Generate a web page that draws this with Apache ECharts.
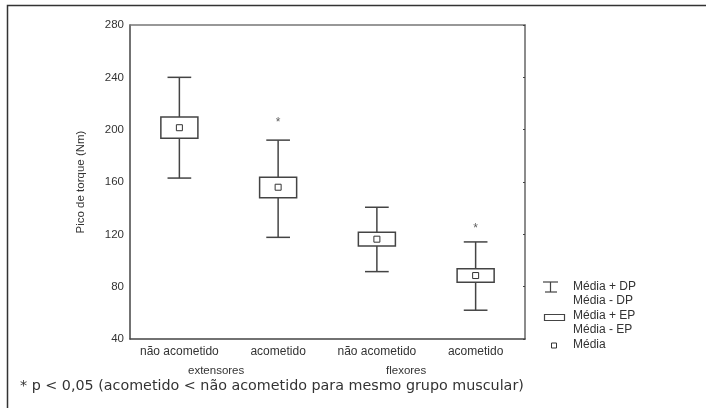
<!DOCTYPE html>
<html>
<head>
<meta charset="utf-8">
<script src="https://cdn.jsdelivr.net/npm/echarts@6/dist/echarts.min.js"></script>
<style>html,body{margin:0;padding:0;background:#fff}#c{width:706px;height:408px}</style>
</head>
<body>
<div id="c"></div>
<script>
var categories = ['não acometido', 'acometido', 'não acometido', 'acometido'];
var groupLabels = ['extensores', 'flexores'];
var meanValues = [201.5, 156, 116.3, 88.5];
var sdUpper = [240, 192, 140.7, 114.2];
var sdLower = [163, 117.7, 91.5, 62];
var seUpper = [209.7, 163.6, 121.6, 93.7];
var seLower = [193.4, 148, 111.1, 83.3];
var starValues = [null, 207, null, 125.5];
var yTicks = [40, 80, 120, 160, 200, 240, 280];

var chart = echarts.init(document.getElementById('c'), null, {renderer: 'canvas'});
var FONT = 'Liberation Sans, Arial, sans-serif';
var LINE = '#444';

var boxData = categories.map(function (c, i) {
  return [i, sdLower[i], seLower[i], meanValues[i], seUpper[i], sdUpper[i]];
});
var starData = [];
starValues.forEach(function (v, i) { if (v != null) starData.push([i, v]); });

function renderBox(params, api) {
  var idx = api.value(0);
  var band = api.size([1, 0])[0];
  var bw = band * 0.375, cw = band * 0.24, ms = 6;
  var pLo = api.coord([idx, api.value(1)]);
  var pSeLo = api.coord([idx, api.value(2)]);
  var pMean = api.coord([idx, api.value(3)]);
  var pSeHi = api.coord([idx, api.value(4)]);
  var pHi = api.coord([idx, api.value(5)]);
  var x = pMean[0];
  var st = {stroke: LINE, lineWidth: 1.5, fill: null};
  return {
    type: 'group',
    children: [
      {type: 'line', shape: {x1: x, y1: pHi[1], x2: x, y2: pSeHi[1]}, style: st},
      {type: 'line', shape: {x1: x, y1: pSeLo[1], x2: x, y2: pLo[1]}, style: st},
      {type: 'line', shape: {x1: x - cw / 2, y1: pHi[1], x2: x + cw / 2, y2: pHi[1]}, style: st},
      {type: 'line', shape: {x1: x - cw / 2, y1: pLo[1], x2: x + cw / 2, y2: pLo[1]}, style: st},
      {type: 'rect', shape: {x: x - bw / 2, y: pSeHi[1], width: bw, height: pSeLo[1] - pSeHi[1]}, style: {stroke: LINE, lineWidth: 1.5, fill: '#fff'}},
      {type: 'rect', shape: {x: x - ms / 2, y: pMean[1] - ms / 2, width: ms, height: ms}, style: {stroke: '#333', lineWidth: 1, fill: '#fff'}}
    ]
  };
}

var textX = 573;
var option = {
  animation: false,
  backgroundColor: '#fff',
  grid: {left: 130, right: 181, top: 25, bottom: 69, show: false},
  xAxis: [{
    type: 'category', data: categories, boundaryGap: true,
    axisLine: {show: true, lineStyle: {color: LINE, width: 1.5}},
    axisTick: {show: false},
    axisLabel: {color: '#333', fontFamily: FONT, fontSize: 12, margin: 7, interval: 0}
  }, {
    type: 'category', data: categories, position: 'top', boundaryGap: true,
    axisLine: {show: true, lineStyle: {color: '#777', width: 1.5}},
    axisTick: {show: false}, axisLabel: {show: false}
  }],
  yAxis: [{
    type: 'value', min: yTicks[0], max: yTicks[yTicks.length - 1], interval: 40,
    name: 'Pico de torque (Nm)', nameLocation: 'middle', nameGap: 43, nameRotate: 90,
    nameTextStyle: {color: '#333', fontFamily: FONT, fontSize: 11.5},
    axisLine: {show: true, lineStyle: {color: LINE, width: 1.5}},
    axisTick: {show: false},
    splitLine: {show: false},
    axisLabel: {color: '#333', fontFamily: FONT, fontSize: 11.5, margin: 6}
  }, {
    type: 'value', min: yTicks[0], max: yTicks[yTicks.length - 1], interval: 40, position: 'right',
    axisLine: {show: true, lineStyle: {color: '#666', width: 1.5}},
    axisTick: {show: true, inside: true, length: 2, lineStyle: {color: '#444'}},
    splitLine: {show: false}, axisLabel: {show: false}
  }],
  series: [{
    type: 'custom', renderItem: renderBox, data: boxData,
    encode: {x: 0, y: [1, 2, 3, 4, 5]}, clip: false
  }, {
    type: 'scatter', data: starData, symbolSize: 1, itemStyle: {color: 'rgba(0,0,0,0)'},
    label: {show: true, position: 'inside', formatter: '*', color: '#333', fontFamily: FONT, fontSize: 12, offset: [0, 2]}
  }],
  graphic: [
    {type: 'rect', shape: {x: 7.5, y: 5.5, width: 720, height: 420}, style: {stroke: '#333', lineWidth: 1.5, fill: null}, silent: true},
    {type: 'text', left: 188, top: 365, style: {text: groupLabels[0], fill: '#333', font: '11.5px ' + FONT}},
    {type: 'text', left: 386, top: 365, style: {text: groupLabels[1], fill: '#333', font: '11.5px ' + FONT}},
    {type: 'text', left: 20, top: 379, style: {text: '* p < 0,05 (acometido < não acometido para mesmo grupo muscular)', fill: '#333', font: '14.3px DejaVu Sans, sans-serif'}},
    // legend
    {type: 'line', shape: {x1: 543, y1: 282, x2: 558, y2: 282}, style: {stroke: LINE, lineWidth: 1.2}},
    {type: 'line', shape: {x1: 550.5, y1: 282, x2: 550.5, y2: 292}, style: {stroke: LINE, lineWidth: 1.2}},
    {type: 'line', shape: {x1: 545, y1: 292, x2: 557, y2: 292}, style: {stroke: LINE, lineWidth: 1.2}},
    {type: 'text', left: textX, top: 281, style: {text: 'Média + DP', fill: '#333', font: '12px ' + FONT}},
    {type: 'text', left: textX, top: 295, style: {text: 'Média - DP', fill: '#333', font: '12px ' + FONT}},
    {type: 'rect', shape: {x: 544.5, y: 314.5, width: 20, height: 6}, style: {stroke: LINE, lineWidth: 1.2, fill: '#fff'}},
    {type: 'text', left: textX, top: 310, style: {text: 'Média + EP', fill: '#333', font: '12px ' + FONT}},
    {type: 'text', left: textX, top: 324, style: {text: 'Média - EP', fill: '#333', font: '12px ' + FONT}},
    {type: 'rect', shape: {x: 551.5, y: 343, width: 5, height: 5}, style: {stroke: '#333', lineWidth: 1, fill: '#fff'}},
    {type: 'text', left: textX, top: 339, style: {text: 'Média', fill: '#333', font: '12px ' + FONT}}
  ]
};
chart.setOption(option);
</script>
</body>
</html>
